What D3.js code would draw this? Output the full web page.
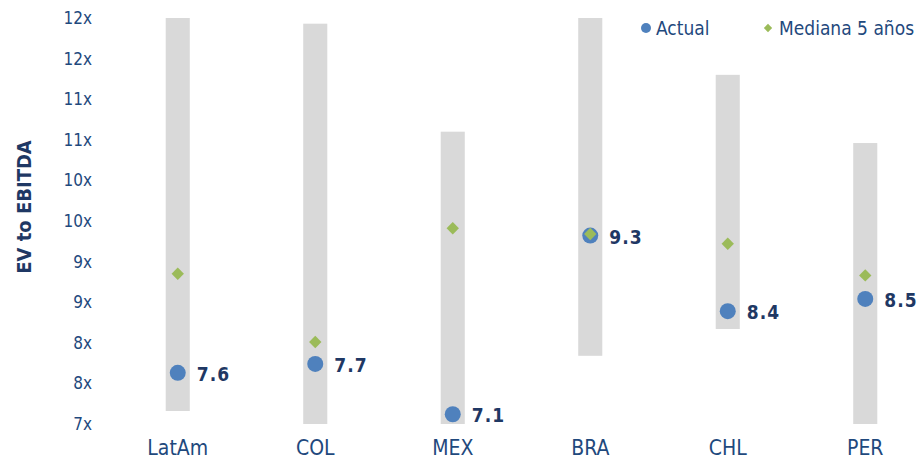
<!DOCTYPE html>
<html>
<head>
<meta charset="utf-8">
<script src="https://cdn.jsdelivr.net/npm/d3@7/dist/d3.min.js"></script>
<style>
  html, body { margin: 0; padding: 0; background: #fff; }
  svg { display: block; font-family: "DejaVu Sans Condensed", "DejaVu Sans", sans-serif; }
</style>
</head>
<body>
<svg id="chart" width="922" height="466"></svg>
<script>
// EV/EBITDA by market: 5-year range, 5-year median and current multiple
const categories = ["LatAm", "COL", "MEX", "BRA", "CHL", "PER"];
const rangeLow   = [7.16, 7.0, 7.0, 7.84, 8.17, 7.0];
const rangeHigh  = [12.0, 11.93, 10.60, 12.0, 11.30, 10.46];
const medianVals = [8.85, 8.01, 9.41, 9.34, 9.22, 8.83];
const actualVals = [7.63, 7.74, 7.12, 9.32, 8.39, 8.54];
const tickValues = [7, 7.5, 8, 8.5, 9, 9.5, 10, 10.5, 11, 11.5, 12];
const tickLabels = ["7x", "8x", "8x", "9x", "9x", "10x", "10x", "11x", "11x", "12x", "12x"];

const font = "'DejaVu Sans Condensed', 'DejaVu Sans', sans-serif";
const textColor = "#1F497D";
const labelColor = "#1F3864";
const blue = "#4F81BD";
const green = "#9BBB59";
const grey = "#D9D9D9";

const svg = d3.select("#chart");

const x = d3.scaleBand()
  .domain(categories)
  .range([109, 934])
  .paddingInner(0.825)
  .paddingOuter(0.4125);

const y = d3.scaleLinear().domain([7, 12]).range([424, 18]);
const cx = d => x(d) + x.bandwidth() / 2;

// range bars
svg.append("g").selectAll("rect")
  .data(categories)
  .join("rect")
  .attr("x", d => x(d))
  .attr("width", x.bandwidth())
  .attr("y", (d, i) => y(rangeHigh[i]))
  .attr("height", (d, i) => y(rangeLow[i]) - y(rangeHigh[i]))
  .attr("fill", grey);

// y axis (labels only)
const yAxis = d3.axisLeft(y)
  .tickValues(tickValues)
  .tickFormat((d, i) => tickLabels[i])
  .tickSize(0)
  .tickPadding(0);
const gy = svg.append("g").attr("transform", "translate(92,0)").call(yAxis);
gy.select(".domain").remove();
gy.selectAll("text")
  .attr("fill", textColor)
  .style("font-size", "17px")
  .style("font-family", font);

// x axis (labels only)
const xAxis = d3.axisBottom(x).tickSize(0).tickPadding(0);
const gx = svg.append("g").attr("transform", "translate(0,440)").call(xAxis);
gx.select(".domain").remove();
gx.selectAll("text")
  .attr("fill", textColor)
  .style("font-size", "21px")
  .style("font-family", font);

// y axis title
svg.append("text")
  .attr("transform", "translate(31,207) rotate(-90)")
  .attr("text-anchor", "middle")
  .attr("fill", labelColor)
  .style("font-size", "20px")
  .style("font-weight", "bold")
  .text("EV to EBITDA");

// current multiple
svg.append("g").selectAll("circle")
  .data(categories)
  .join("circle")
  .attr("cx", d => cx(d))
  .attr("cy", (d, i) => y(actualVals[i]))
  .attr("r", 8)
  .attr("fill", blue);

// 5-year median
const diamond = d3.symbol().type(d3.symbolDiamond2).size(98);
svg.append("g").selectAll("path")
  .data(categories)
  .join("path")
  .attr("d", diamond)
  .attr("transform", (d, i) => `translate(${cx(d)},${y(medianVals[i])})`)
  .attr("fill", green);

// value labels
const fmt = d3.format(".1f");
svg.append("g").selectAll("text")
  .data(categories)
  .join("text")
  .attr("x", d => cx(d) + 19)
  .attr("y", (d, i) => y(actualVals[i]) + 8)
  .attr("fill", labelColor)
  .style("font-size", "19px")
  .style("font-weight", "bold")
  .style("letter-spacing", "1px")
  .text((d, i) => fmt(actualVals[i]));

// legend
const legend = svg.append("g").style("font-size", "19px");
legend.append("circle").attr("cx", 646).attr("cy", 28).attr("r", 5).attr("fill", blue);
legend.append("text").attr("x", 656).attr("y", 34.5).attr("fill", textColor).text("Actual");
legend.append("path")
  .attr("d", d3.symbol().type(d3.symbolDiamond2).size(44))
  .attr("transform", "translate(768,28)")
  .attr("fill", green);
legend.append("text").attr("x", 779).attr("y", 34.5).attr("fill", textColor).text("Mediana 5 años");
</script>
</body>
</html>
